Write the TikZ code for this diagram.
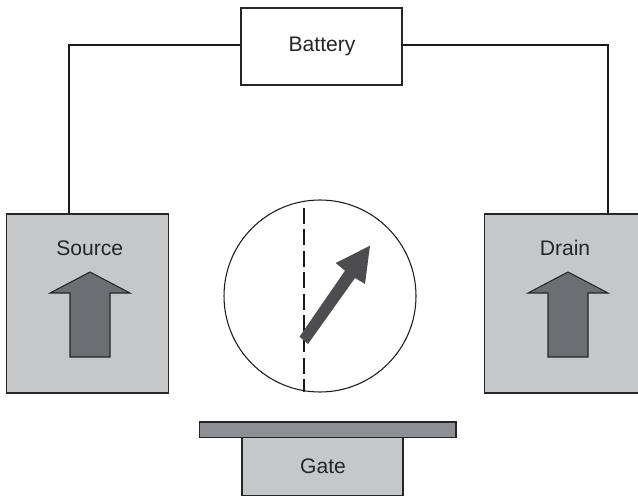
\documentclass[tikz,border=0pt]{standalone}
\usepackage{fontspec}
\setmainfont{Liberation Sans}
\definecolor{boxgray}{HTML}{C6C7C9}
\definecolor{upgray}{HTML}{6D6E71}
\definecolor{plategray}{HTML}{8E8F93}
\definecolor{spingray}{HTML}{4D4D4F}
\tikzset{
  blockbox/.style={draw=black!85,line width=0.7pt,inner sep=0pt,fill=boxgray},
  caption/.style={font=\fontsize{12}{14}\selectfont,text=black!85,inner sep=0pt},
  wire/.style={draw=black!90,line width=0.95pt},
  uparrow/.style={draw=black!85,line width=0.6pt,fill=upgray,line join=miter}
}
\begin{document}
\begin{tikzpicture}[x=0.02cm, y=-0.02cm]
  \useasboundingbox (0,0) rectangle (638,496);
  \coordinate (sourcetop) at (69,214);
  \coordinate (draintop) at (608,214);
  \node[blockbox,fill=white,minimum width=3.22cm,minimum height=1.54cm] (battery) at (321.5,46.5) {};
  \node[caption] (batterytext) at (322,46) {Battery};
  \draw[wire] (battery.west|-0,45) -| (sourcetop);
  \draw[wire] (battery.east|-0,45) -| (draintop);
  \node[blockbox,minimum width=3.23cm,minimum height=3.58cm] (source) at (87.5,303.5) {};
  \node[caption] (sourcetext) at (89.7,248) {Source};
  \node[blockbox,minimum width=3.23cm,minimum height=3.58cm] (drain) at (565.5,303.5) {};
  \node[caption] (draintext) at (565,248) {Drain};
  \begin{scope}[shift={(90,0)}]
    \draw[uparrow] (0,272)--(40,293)--(20,293)--(20,357)--(-20,357)--(-20,293)--(-40,293)--cycle;
  \end{scope}
  \begin{scope}[shift={(568,0)}]
    \draw[uparrow] (0,272)--(40,293)--(20,293)--(20,357)--(-20,357)--(-20,293)--(-40,293)--cycle;
  \end{scope}
  % free layer
  \draw[line width=0.6pt,black!90] (320,296) circle (96);
  \draw[line width=0.9pt,black!90,dash pattern=on 9pt off 3.2pt] (304,208)--(304,392);
  \fill[spingray] (299.5,336.7)--(345,270.7)--(335.7,263)--(370,245.7)--(365,284)--(355,278)--(308,344)--cycle;
  \node[blockbox,minimum width=3.22cm,minimum height=1.15cm] (gate) at (322.5,466.5) {};
  \node[caption] (gatetext) at (323,466) {Gate};
  \node[blockbox,fill=plategray,minimum width=5.13cm,minimum height=0.31cm] (plate) at (327.8,429.8) {};
\end{tikzpicture}
\end{document}
